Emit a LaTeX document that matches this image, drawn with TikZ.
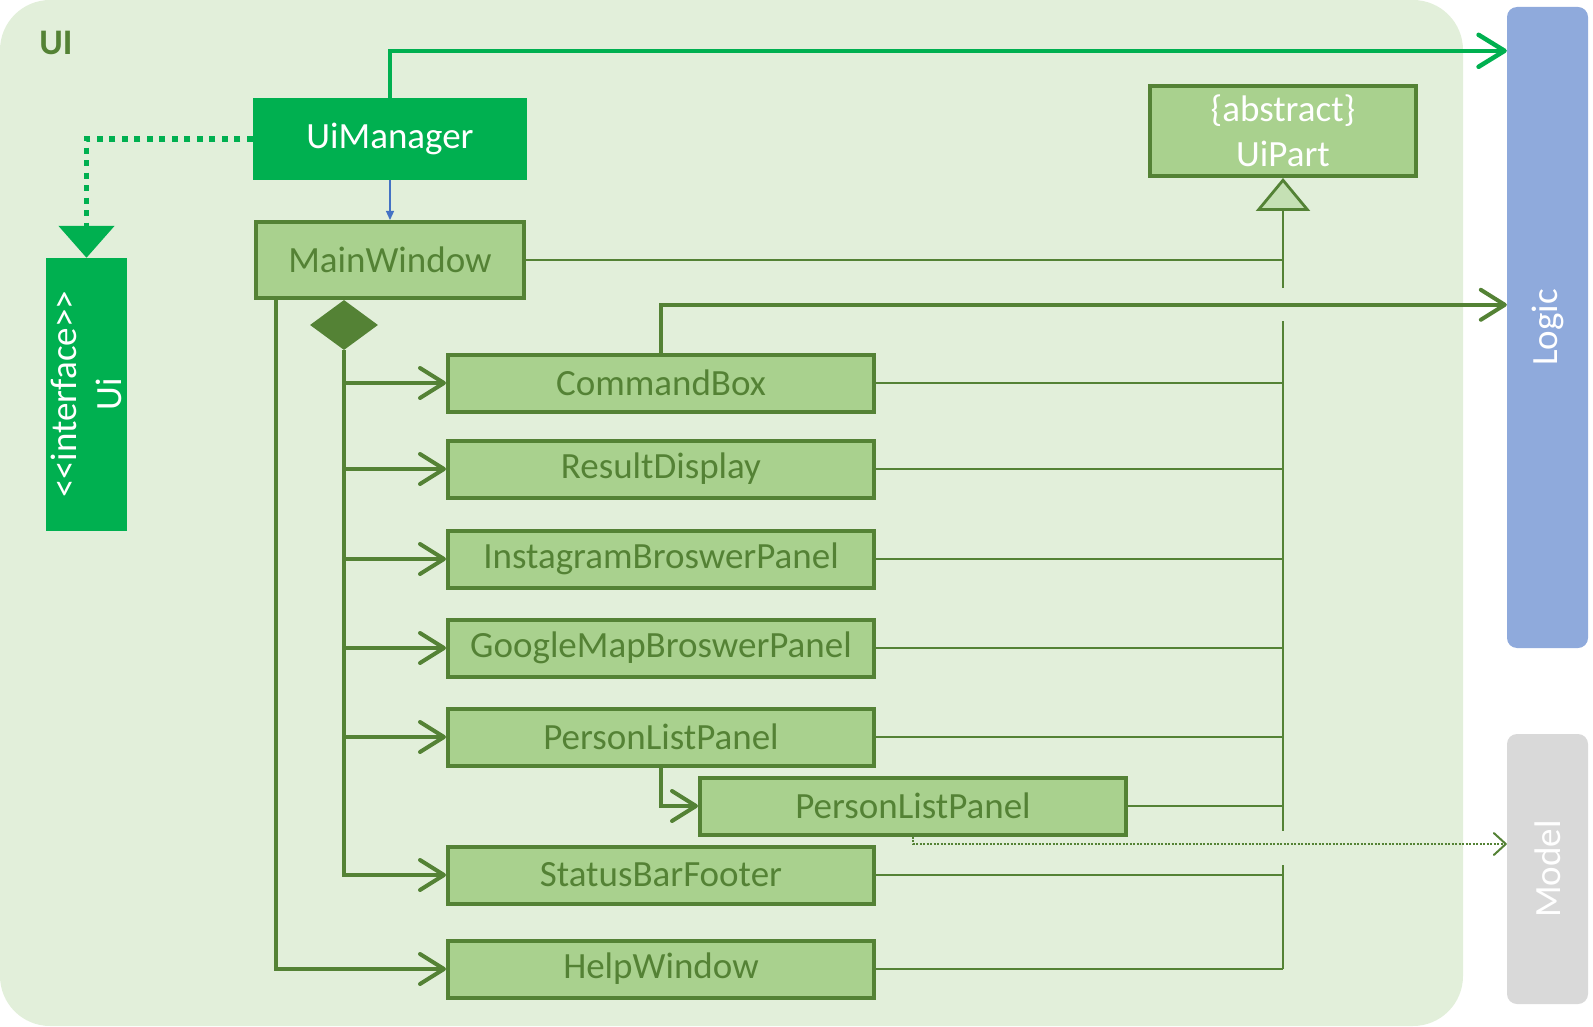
\documentclass[tikz,border=0pt]{standalone}
\usepackage{fontspec}
\setmainfont{Carlito}
\usetikzlibrary{arrows.meta,shapes.geometric,calc}
\definecolor{uibg}{HTML}{E2EFDA}
\definecolor{dkgreen}{HTML}{548235}
\definecolor{boxfill}{HTML}{A9D18E}
\definecolor{brightgreen}{HTML}{00B050}
\definecolor{trifill}{HTML}{C5E0B4}
\definecolor{logicblue}{HTML}{8FAADC}
\definecolor{modelgrey}{HTML}{D9D9D9}
\definecolor{linkblue}{HTML}{4472C4}
\begin{document}
\begin{tikzpicture}[x=1pt,y=-1pt,
  txt/.style={font=\fontsize{37}{45}\selectfont, inner sep=0pt, align=center},
  cls/.style={txt, draw=dkgreen, line width=4pt, fill=boxfill, text=dkgreen},
  widebox/.style={cls, minimum width=426pt, minimum height=57pt},
  solidgreen/.style={txt, fill=brightgreen, text=white},
  sidebox/.style={txt, text=white, rotate=90, minimum height=81pt},
  assoc/.style={draw=dkgreen, line width=4pt, -{Straight Barb[length=24pt,width=30pt,round]}},
  bus/.style={draw=dkgreen, line width=2.8pt},
  inherit/.style={bus, -{Triangle[length=33pt,width=54pt,fill=trifill]}},
]
\useasboundingbox (0,0) rectangle (1593,1027);

% package frame
\fill[uibg, rounded corners=50pt] (0,0) rectangle (1463,1026);
\node[font=\fontsize{36}{40}\selectfont\bfseries, text=dkgreen, inner sep=0pt] (uilabel) at (56,43) {UI};

% neighbouring components (rotated: their north anchors face left)
\node[sidebox, fill=logicblue, rounded corners=10pt, minimum width=641pt] (logic) at (1547.5,327.5) {Logic};
\node[sidebox, fill=modelgrey, rounded corners=10pt, minimum width=270pt] (model) at (1547.5,869) {Model};

% classes
\node[solidgreen, minimum width=274pt, minimum height=82pt] (uim) at (390,139) {UiManager};
\node[solidgreen, rotate=90, minimum width=273pt, minimum height=81pt] (ui) at (86.5,394.5) {<{}<interface>{}>\\Ui};
\node[cls, minimum width=268pt, minimum height=76pt] (mw) at (390,260) {MainWindow};
\node[cls, text=white, minimum width=266pt, minimum height=90pt] (uipart) at (1283,131) {\{abstract\}\\UiPart};

\node[widebox] (cb)   at (661,383) {CommandBox};
\node[widebox] (rd)   at (661,469) {ResultDisplay};
\node[widebox] (igp)  at (661,559) {InstagramBroswerPanel};
\node[widebox] (gmp)  at (661,648) {GoogleMapBroswerPanel};
\node[widebox] (plp)  at (661,737) {PersonListPanel};
\node[widebox] (plp2) at (913,806) {PersonListPanel};
\node[widebox] (sbf)  at (661,875) {StatusBarFooter};
\node[widebox] (hw)   at (661,969) {HelpWindow};

% composition diamond below MainWindow
\node[diamond, fill=dkgreen, inner sep=0pt, minimum width=68pt, minimum height=50pt] (comp) at (344,325) {};

% UiManager relations
\draw[brightgreen, line width=4.5pt, -{Straight Barb[length=26pt,width=32pt,round]}]
  (uim.north) |- ([yshift=-44pt]logic.north east);
\draw[brightgreen, line width=5.5pt, dash pattern=on 6pt off 6.5pt, -{Triangle[length=32pt,width=55pt]}]
  (uim.west) -| (ui.east);
\draw[linkblue, line width=1.2pt, -{Triangle[length=9pt,width=8pt]}] (uim.south) -- (mw.north);

% MainWindow composition
\draw[assoc] (comp.south) |- (sbf.west);
\foreach \b in {cb,rd,igp,gmp,plp}
  \draw[assoc] (comp.south |- \b.west) -- (\b.west);
\draw[assoc] ([xshift=22pt]mw.south west) |- (hw.west);
\draw[assoc] (plp.south) |- (plp2.west);

% CommandBox to Logic, PersonListPanel to Model
\draw[assoc] (cb.north) |- ([yshift=-298pt]logic.north east);
\draw[dkgreen, line width=2pt, dash pattern=on 2pt off 1.5pt,
      -{Straight Barb[length=12pt,width=22pt,round]}]
  (plp2.south) |- ([yshift=25pt]model.north);

% generalisation to UiPart
\coordinate (busx) at (1283,0);
\coordinate (busA) at (1283,288);
\coordinate (busB) at (1283,321);
\coordinate (busC) at (1283,831);
\coordinate (busD) at (1283,865);
\draw[inherit] (busA) -- (uipart.south);
\draw[bus] (busB) -- (busC);
\draw[bus] (busD) -- (hw.east -| busx);
\foreach \b in {mw,cb,rd,igp,gmp,plp,plp2,sbf,hw}
  \draw[bus] (\b.east) -- (\b.east -| busx);
\end{tikzpicture}
\end{document}
